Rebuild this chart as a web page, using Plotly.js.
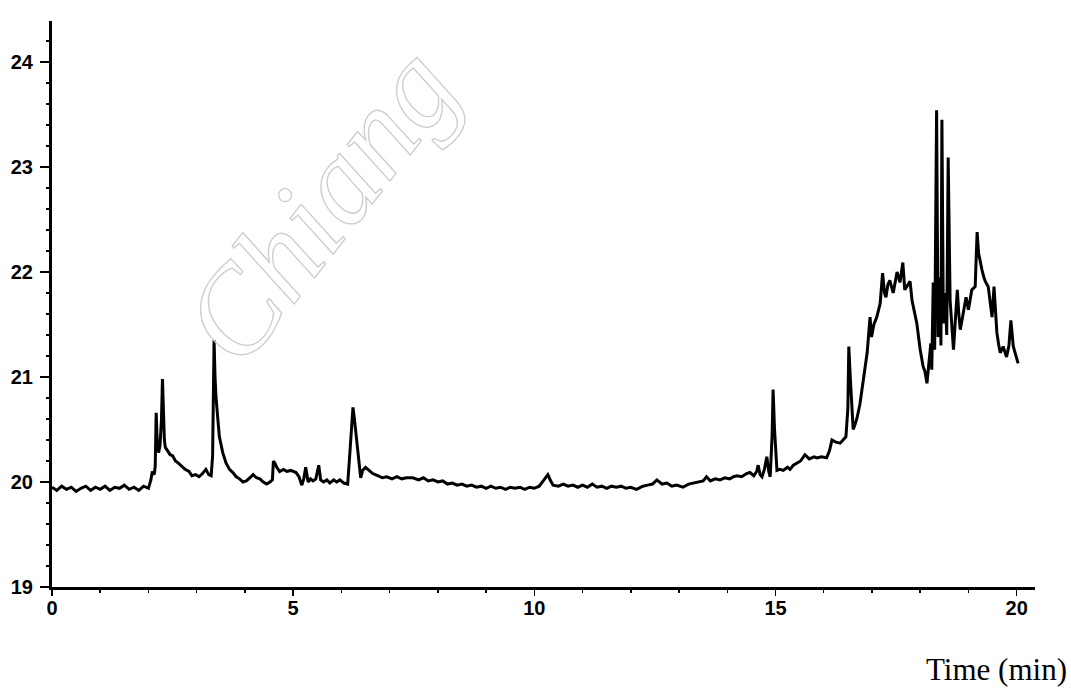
<!DOCTYPE html>
<html>
<head>
<meta charset="utf-8">
<script src="https://cdn.plot.ly/plotly-3.0.1.min.js"></script>
<style>
  html, body { margin: 0; padding: 0; background: #ffffff; }
  #chart { width: 1071px; height: 690px; }
</style>
</head>
<body>
<div id="chart"></div>
<script>
// Detector trace: retention time (min) and signal
const timeMin = [
  0.00, 0.10, 0.20, 0.30, 0.40, 0.50, 0.60, 0.70, 0.80, 0.90,
  1.00, 1.10, 1.20, 1.30, 1.40, 1.50, 1.60, 1.70, 1.80, 1.90, 2.00,
  2.05, 2.08, 2.12, 2.14, 2.16, 2.18, 2.21, 2.24, 2.27, 2.29, 2.31, 2.33, 2.35,
  2.40, 2.45, 2.50, 2.56, 2.62, 2.70, 2.76, 2.84, 2.90, 2.98, 3.05, 3.12, 3.19,
  3.25, 3.30, 3.33, 3.36, 3.38, 3.40, 3.44, 3.47, 3.54, 3.61, 3.68, 3.75, 3.82,
  3.89, 3.96, 4.03, 4.10, 4.17, 4.24, 4.31, 4.38, 4.45, 4.52, 4.57, 4.59, 4.62,
  4.66, 4.72, 4.80, 4.87, 4.95, 5.06, 5.12, 5.18, 5.22, 5.26, 5.31, 5.36, 5.41,
  5.47, 5.53, 5.57, 5.63, 5.70, 5.76, 5.84, 5.90, 5.97, 6.05, 6.13, 6.17, 6.21,
  6.24, 6.27, 6.30, 6.34, 6.40, 6.44, 6.50, 6.55, 6.65, 6.75, 6.85, 6.94, 7.05,
  7.15, 7.25, 7.35, 7.48, 7.60, 7.70, 7.80, 7.90, 8.00, 8.10, 8.20, 8.30, 8.40,
  8.50, 8.60, 8.70, 8.80, 8.90, 9.00, 9.10, 9.20, 9.30, 9.40, 9.50, 9.60, 9.70,
  9.80, 9.90, 10.00, 10.10, 10.20, 10.28, 10.34, 10.39, 10.50, 10.60, 10.70,
  10.80, 10.90, 11.00, 11.10, 11.20, 11.30, 11.40, 11.50, 11.60, 11.70, 11.80,
  11.90, 12.00, 12.12, 12.25, 12.35, 12.45, 12.54, 12.65, 12.75, 12.85, 12.95,
  13.08, 13.20, 13.30, 13.40, 13.50, 13.57, 13.65, 13.75, 13.85, 13.95, 14.05,
  14.13, 14.20, 14.30, 14.40, 14.47, 14.55, 14.61, 14.64, 14.68, 14.72, 14.77,
  14.82, 14.86, 14.89, 14.93, 14.95, 14.98, 15.03, 15.09, 15.16, 15.25, 15.30,
  15.37, 15.45, 15.52, 15.61, 15.70, 15.80, 15.86, 15.95, 16.06, 16.12, 16.17,
  16.25, 16.34, 16.40, 16.46, 16.50, 16.52, 16.55, 16.57, 16.61, 16.65, 16.69,
  16.75, 16.81, 16.86, 16.90, 16.96, 16.99, 17.04, 17.10, 17.17, 17.22, 17.26,
  17.29, 17.33, 17.37, 17.44, 17.48, 17.52, 17.58, 17.64, 17.68, 17.74, 17.79,
  17.83, 17.88, 17.93, 18.00, 18.06, 18.10, 18.14, 18.18, 18.22, 18.24, 18.27,
  18.30, 18.34, 18.37, 18.41, 18.43, 18.45, 18.48, 18.52, 18.55, 18.58, 18.62,
  18.66, 18.69, 18.73, 18.77, 18.80, 18.83, 18.87, 18.90, 18.95, 19.00, 19.04,
  19.07, 19.14, 19.18, 19.21, 19.25, 19.28, 19.32, 19.35, 19.41, 19.45, 19.49,
  19.53, 19.56, 19.59, 19.63, 19.66, 19.72, 19.76, 19.79, 19.84, 19.88, 19.93,
  19.98, 20.03
];

const signal = [
  19.95, 19.92, 19.96, 19.93, 19.95, 19.91, 19.94, 19.96, 19.92, 19.95,
  19.93, 19.96, 19.92, 19.95, 19.94, 19.97, 19.93, 19.95, 19.92, 19.96, 19.94,
  20.02, 20.10, 20.07, 20.15, 20.66, 20.40, 20.28, 20.35, 20.60, 20.98, 20.59, 20.40, 20.33,
  20.30, 20.26, 20.25, 20.20, 20.18, 20.14, 20.12, 20.10, 20.06, 20.07, 20.05, 20.08, 20.12,
  20.07, 20.06, 20.25, 21.35, 21.00, 20.81, 20.59, 20.43, 20.28, 20.18, 20.12, 20.09, 20.05,
  20.03, 20.00, 20.01, 20.04, 20.07, 20.04, 20.03, 20.00, 19.98, 20.00, 20.02, 20.20, 20.18,
  20.14, 20.10, 20.12, 20.10, 20.11, 20.09, 20.05, 19.97, 20.03, 20.14, 20.00, 20.03, 20.01,
  20.03, 20.16, 20.02, 20.00, 20.02, 19.99, 20.02, 20.00, 20.02, 19.99, 19.98, 20.24, 20.55,
  20.71, 20.60, 20.47, 20.24, 20.04, 20.11, 20.14, 20.12, 20.08, 20.06, 20.04, 20.05, 20.03,
  20.05, 20.03, 20.04, 20.04, 20.02, 20.04, 20.01, 20.02, 20.00, 20.01, 19.98, 19.99, 19.97,
  19.98, 19.96, 19.97, 19.95, 19.96, 19.94, 19.96, 19.94, 19.95, 19.93, 19.95, 19.94, 19.95,
  19.93, 19.95, 19.94, 19.96, 20.02, 20.07, 20.01, 19.97, 19.96, 19.98, 19.96,
  19.97, 19.95, 19.97, 19.95, 19.98, 19.95, 19.96, 19.94, 19.96, 19.95, 19.96,
  19.94, 19.95, 19.93, 19.96, 19.97, 19.98, 20.02, 19.98, 19.99, 19.96, 19.97,
  19.95, 19.98, 19.99, 20.00, 20.01, 20.05, 20.01, 20.03, 20.02, 20.04, 20.03,
  20.05, 20.06, 20.05, 20.08, 20.09, 20.06, 20.10, 20.16, 20.07, 20.05, 20.12,
  20.24, 20.10, 20.05, 20.45, 20.88, 20.50, 20.11, 20.12, 20.11, 20.14, 20.12,
  20.16, 20.18, 20.20, 20.26, 20.22, 20.24, 20.23, 20.24, 20.23, 20.30, 20.40,
  20.38, 20.37, 20.40, 20.43, 20.70, 21.29, 21.00, 20.81, 20.50, 20.55, 20.61,
  20.74, 20.94, 21.10, 21.23, 21.57, 21.38, 21.50, 21.57, 21.70, 21.99, 21.80,
  21.76, 21.88, 21.92, 21.80, 21.90, 22.00, 21.90, 22.09, 21.83, 21.88, 21.91,
  21.73, 21.62, 21.51, 21.26, 21.10, 21.05, 20.94, 21.13, 21.32, 21.07, 21.90,
  21.26, 23.54, 21.38, 21.95, 21.30, 23.45, 21.51, 21.80, 21.40, 23.09, 21.73,
  21.40, 21.26, 21.55, 21.83, 21.60, 21.45, 21.55, 21.64, 21.76, 21.64, 21.75,
  21.83, 21.86, 22.38, 22.18, 22.08, 22.02, 21.95, 21.91, 21.86, 21.70, 21.57,
  21.86, 21.65, 21.42, 21.30, 21.23, 21.29, 21.22, 21.19, 21.30, 21.54, 21.29,
  21.20, 21.13
];

const xTickVals = [0, 5, 10, 15, 20];
const yTickVals = [19, 20, 21, 22, 23, 24];
const xTitle = 'Time (min)';
const watermarkText = 'Chiang';

const trace = {
  x: timeMin,
  y: signal,
  type: 'scatter',
  mode: 'lines',
  line: { color: '#000000', width: 3 },
  hoverinfo: 'skip',
  showlegend: false
};

const tickFont = { family: 'Liberation Sans, Arial, sans-serif', size: 20, weight: 'bold', color: '#000000' };

const layout = {
  width: 1071,
  height: 690,
  margin: { l: 52, r: 36, t: 21, b: 103 },
  paper_bgcolor: '#ffffff',
  plot_bgcolor: '#ffffff',
  showlegend: false,
  xaxis: {
    range: [0, 20.38],
    showgrid: false,
    zeroline: false,
    showline: true,
    linecolor: '#000000',
    linewidth: 3,
    ticks: 'outside',
    ticklen: 6,
    tickwidth: 1.5,
    tickcolor: '#000000',
    tickvals: xTickVals,
    ticktext: xTickVals.map(String),
    tickfont: tickFont,
    ticklabelstandoff: -5,
    minor: { dtick: 1, ticks: 'outside', ticklen: 3, tickwidth: 1.5, tickcolor: '#000000', showgrid: false }
  },
  yaxis: {
    range: [19, 24.39],
    showgrid: false,
    zeroline: false,
    showline: true,
    linecolor: '#000000',
    linewidth: 3,
    ticks: 'outside',
    ticklen: 9,
    tickwidth: 1.5,
    tickcolor: '#000000',
    tickvals: yTickVals,
    ticktext: yTickVals.map(String),
    tickfont: tickFont,
    ticklabelstandoff: 3,
    minor: { dtick: 0.2, ticks: 'outside', ticklen: 3, tickwidth: 1.5, tickcolor: '#000000', showgrid: false }
  },
  annotations: [
    {
      text: xTitle,
      xref: 'paper', yref: 'paper',
      x: 1.0345, y: -0.145,
      xanchor: 'right', yanchor: 'middle',
      showarrow: false,
      font: { family: 'Liberation Serif, Times New Roman, serif', size: 31, color: '#000000' }
    },
    {
      text: watermarkText,
      xref: 'paper', yref: 'paper',
      x: 0.272, y: 0.675,
      xanchor: 'center', yanchor: 'middle',
      textangle: -52,
      showarrow: false,
      font: { family: 'Liberation Serif, Times New Roman, serif', size: 122, style: 'italic', color: '#d4d4d4' }
    }
  ]
};

Plotly.newPlot('chart', [trace], layout, { staticPlot: true, displayModeBar: false }).then(function () {
  // draw the diagonal lettering as outlines only
  const texts = document.querySelectorAll('.annotation-text');
  texts.forEach(function (el) {
    if (el.textContent === watermarkText) {
      el.style.fill = 'none';
      el.style.stroke = '#cccccc';
      el.style.strokeWidth = '1.3px';
    }
  });
});
</script>
</body>
</html>
